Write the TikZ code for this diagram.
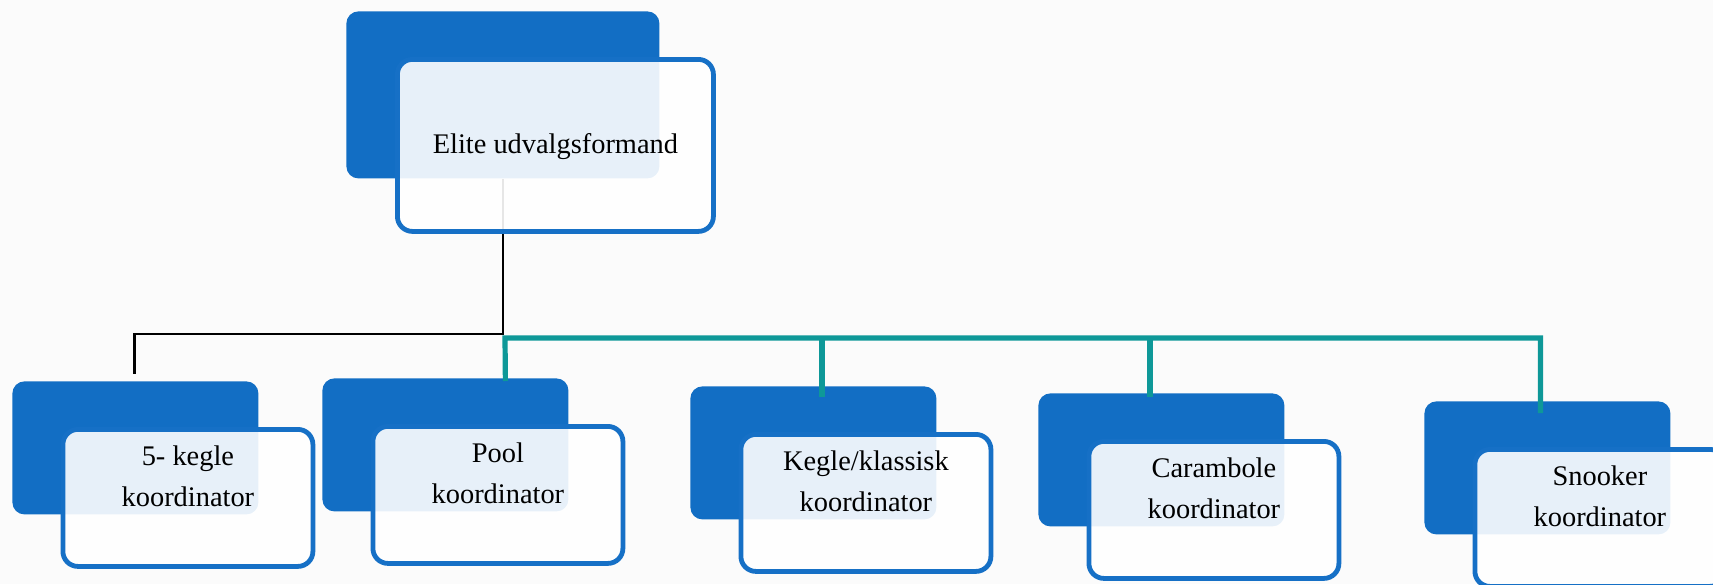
\documentclass[tikz,border=0pt]{standalone}
\usepackage{fontspec}
\setmainfont{Liberation Serif}
\usetikzlibrary{positioning}
\definecolor{boxblue}{RGB}{18,110,196}
\definecolor{rimblue}{RGB}{22,112,198}
\definecolor{busteal}{RGB}{14,152,152}
\definecolor{paper}{RGB}{251,251,251}

\begin{document}
\begin{tikzpicture}[
            x=0.5pt, y=-0.5pt,
            back/.style={fill=boxblue, rounded corners=6pt, inner sep=0pt, anchor=north west,
                minimum width=123pt, minimum height=66.5pt},
            front/.style={draw=rimblue, line width=2.4pt, fill=white, fill opacity=0.9,
                rounded corners=7.5pt, inner sep=0pt, anchor=north west,
                minimum width=125pt, minimum height=68.5pt, xshift=24.25pt, yshift=-23pt},
            lbl/.style={align=center, inner sep=0pt, font=\fontsize{14.2}{20.5}\selectfont},
            tree/.style={draw=black, line width=1.2pt},
            busline/.style={draw=busteal, line width=2.6pt}
        ]
            % page
            \useasboundingbox (0,0) rectangle (1713,584);
            \clip (0,0) rectangle (1713,584);
            \fill[paper] (0,0) rectangle (1713,584);

            % back boxes
            \node[back, minimum width=156.5pt, minimum height=83.5pt] (b0) at (346,11) {};
            \node[back] (b1) at (12,381) {};
            \node[back] (b2) at (322,378) {};
            \node[back] (b3) at (690,386) {};
            \node[back] (b4) at (1038,393) {};
            \node[back] (b5) at (1424,401) {};

            % connectors
            \draw[tree] (b0.south) |- ([xshift=-0.5pt,yshift=23.5pt]b1.north)
                -- ([xshift=-0.5pt,yshift=3.5pt]b1.north);
            \coordinate (bus) at (505,338);
            \draw[busline] ([xshift=30pt,yshift=-1.5pt]b2.north) -- (bus)
                -| ([xshift=-3.5pt,yshift=-6pt]b5.north);
            \draw[busline] ([xshift=4.25pt,yshift=-5.5pt]b3.north) coordinate (d3) -- (d3 |- bus);
            \draw[busline] ([xshift=-5.75pt,yshift=-2pt]b4.north) coordinate (d4) -- (d4 |- bus);

            % front boxes
            \node[front, minimum width=158pt, minimum height=86pt, xshift=0.25pt] (f0) at (b0.north west) {};
            \node[front] (f1) at (b1.north west) {};
            \node[front] (f2) at (b2.north west) {};
            \node[front] (f3) at (b3.north west) {};
            \node[front] (f4) at (b4.north west) {};
            \node[front] (f5) at (b5.north west) {};

            % labels
            \node[lbl] (t0) at ([yshift=-0.5pt]f0.center) {Elite udvalgsformand};
            \node[lbl] (t1) at ([yshift=-24.5pt]f1.north) {5- kegle\\koordinator};
            \node[lbl] (t2) at ([yshift=-24.5pt]f2.north) {Pool\\koordinator};
            \node[lbl] (t3) at ([yshift=-24.5pt]f3.north) {Kegle/klassisk\\koordinator};
            \node[lbl] (t4) at ([yshift=-24.5pt]f4.north) {Carambole\\koordinator};
            \node[lbl] (t5) at ([yshift=-24.5pt]f5.north) {Snooker\\koordinator};
        \end{tikzpicture}
\end{document}
